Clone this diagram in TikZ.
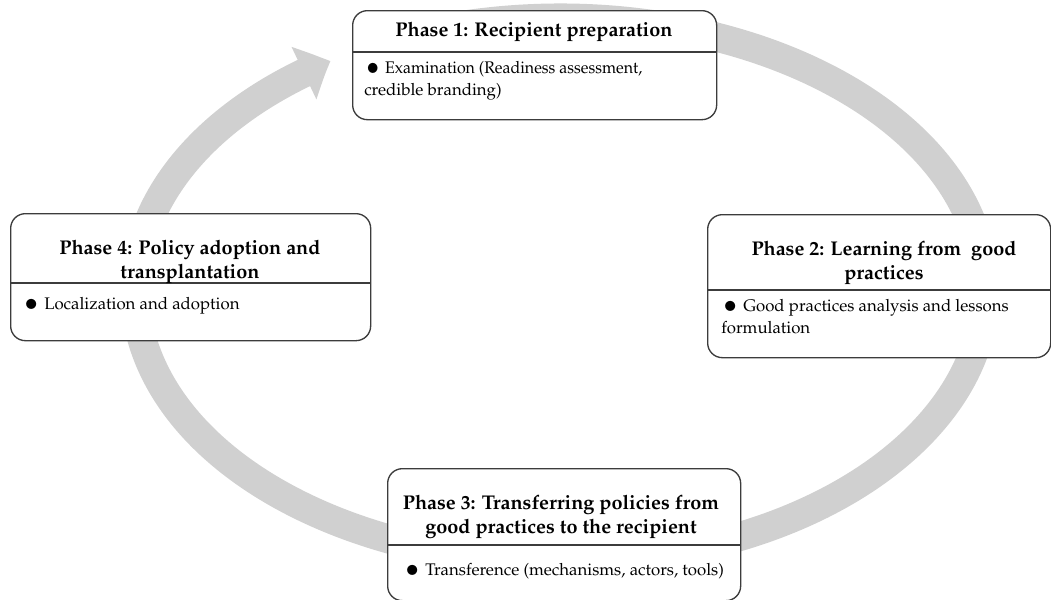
\documentclass[tikz,border=0pt]{standalone}
\usepackage[T1]{fontenc}
\usepackage{mathpazo}
\usepackage{graphicx}
\usetikzlibrary{arrows.meta,bending}
\definecolor{ringgray}{RGB}{208,208,208}
\definecolor{edgegray}{RGB}{60,60,60}
\newcommand{\bul}{\smash{\raisebox{-0.62ex}{\scalebox{1.75}{\textbullet}}}\ }
\tikzset{
  phasebox/.style={draw=edgegray, line width=1pt, fill=white, rounded corners=11pt, anchor=north west, inner sep=0pt},
  divider/.style={draw=edgegray, line width=1pt},
  ptitle/.style={inner sep=0pt, align=center, font=\fontsize{14.9}{17.5}\selectfont\bfseries},
  pbody/.style={inner sep=0pt, align=left, anchor=west, font=\fontsize{12.6}{16.3}\selectfont},
  ring/.style={draw=ringgray, line width=21.75pt, -{Triangle[width=42pt,length=22pt,bend]}}
}
\begin{document}
\begin{tikzpicture}[x=0.75pt,y=-0.75pt]
\useasboundingbox (0,0) rectangle (1051,600);
% circular arrow
\draw[ring] (450,27.3) arc[start angle=255, end angle=597.3, x radius=425, y radius=272];
% boxes
\node[phasebox, minimum width=273pt, minimum height=81.75pt] (p1) at (352,10) {};
\node[phasebox, minimum width=257.25pt, minimum height=107.25pt] (p2) at (707,214) {};
\node[phasebox, minimum width=264.75pt, minimum height=99pt] (p3) at (387,468) {};
\node[phasebox, minimum width=270pt, minimum height=95.25pt] (p4) at (10,213) {};
% dividers
\coordinate (d1) at (0,52);
\coordinate (d2) at (0,290);
\coordinate (d3) at (0,545);
\coordinate (d4) at (0,283);
\draw[divider] (p1.west |- d1) -- (p1.east |- d1);
\draw[divider] (p2.west |- d2) -- (p2.east |- d2);
\draw[divider] (p3.west |- d3) -- (p3.east |- d3);
\draw[divider] (p4.west |- d4) -- (p4.east |- d4);
% titles
\node[ptitle] (t1) at (534,32) {Phase 1: Recipient preparation};
\node[ptitle] (t2) at (884,263) {Phase 2: Learning from\ \ good\\practices};
\node[ptitle] (t3) at (561,517) {Phase 3: Transferring policies from\\good practices to the recipient};
\node[ptitle] (t4) at (190,262) {Phase 4: Policy adoption and\\transplantation};
% bodies
\node[pbody] (b1) at (364,81) {\scalebox{0.95}[1]{\bul Examination (Readiness assessment,}\\credible branding)};
\node[pbody] (b2) at (721,316.5) {\bul Good practices analysis and lessons\\formulation};
\node[pbody] (b3) at (403,571) {\bul Transference (mechanisms, actors, tools)};
\node[pbody] (b4) at (22,306) {\bul Localization and adoption};
\end{tikzpicture}
\end{document}
